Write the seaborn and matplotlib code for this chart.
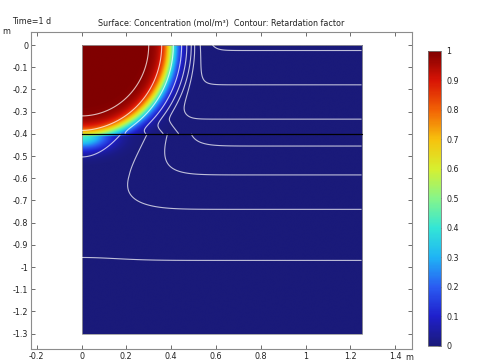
import numpy as np
import matplotlib
matplotlib.use("Agg")
import matplotlib.pyplot as plt
from matplotlib.colors import LinearSegmentedColormap
from matplotlib.patches import Rectangle
import seaborn as sns

# domain (m)
x_min, x_max = 0.0, 1.25
y_min, y_max = -1.3, 0.0
y_layer = -0.4

# concentration
c_mid_radius = 0.40      # green (c = 0.5) round the corner
c_edge_width = 0.045
c_lower_peak = 0.42      # just under the layer boundary at x = 0
c_lower_x = 0.12
c_lower_depth = 0.06

# retardation factor contours
# upper layer: where each line meets the top edge
top_cross = [0.30, 0.358, 0.41, 0.447, 0.47, 0.49, 0.505, 0.53, 0.585]
top_levels = [8, 7, 6, 5, 4, 3, 2, 1, 0]
# upper layer: depth of the flat part on the right
flat_upper = [0.026, 0.177, 0.335]
flat_upper_levels = [0, 1, 2]
# lower layer: where the lines leave the layer boundary
layer_cross = [0.193, 0.279, 0.349, 0.438]
layer_levels = [6, 5, 4, 3]
arc_left_depth = 0.092   # innermost lower arc meets x = 0 here (below boundary)
# lower layer: depth of the flat part on the right
flat_lower = [0.455, 0.585, 0.74, 0.97]
flat_lower_levels = [3, 4, 5, 6]

x_ticks = [-0.2, 0, 0.2, 0.4, 0.6, 0.8, 1, 1.2, 1.4]
y_ticks = [0, -0.1, -0.2, -0.3, -0.4, -0.5, -0.6, -0.7, -0.8, -0.9, -1, -1.1, -1.2, -1.3]
cbar_ticks = [0, 0.1, 0.2, 0.3, 0.4, 0.5, 0.6, 0.7, 0.8, 0.9, 1]

rainbow = ["#1a1a7a", "#1f1fcc", "#2a5cf2", "#1fb4f5", "#33e6d6", "#86f58a",
           "#d6f030", "#f7c20d", "#f26305", "#d91405", "#800000"]


def lin_extrap(x, xp, fp):
    xp = np.asarray(xp, float)
    fp = np.asarray(fp, float)
    out = np.interp(x, xp, fp)
    lo = x < xp[0]
    hi = x > xp[-1]
    out[lo] = fp[0] + (x[lo] - xp[0]) * (fp[1] - fp[0]) / (xp[1] - xp[0])
    out[hi] = fp[-1] + (x[hi] - xp[-1]) * (fp[-1] - fp[-2]) / (xp[-1] - xp[-2])
    return out


# grids
xs = np.linspace(x_min, x_max, 600)
yu = np.linspace(y_layer, y_max, 240)
yl = np.linspace(y_min, y_layer, 520)
XU, YU = np.meshgrid(xs, yu)
XL, YL = np.meshgrid(xs, yl)

# concentration field
rho = np.sqrt(XU**2 + YU**2)
conc_u = 0.5 * (1 - np.tanh((rho - c_mid_radius) / c_edge_width))
d_l = y_layer - YL
conc_l = c_lower_peak * np.exp(-(XL / c_lower_x)**2 - (d_l / c_lower_depth)**2)
conc = np.vstack([conc_l, conc_u[1:]])

# retardation factor field (log-scale levels)
qa, qb = np.polyfit(flat_upper, flat_upper_levels, 1)
Q_u = qb + qa * (-YU)
# blob part, corrected so the lines hit the top edge where read
p_top = np.log(np.exp(np.array(top_levels, float)) - np.exp(qb))
rho_r = np.sqrt(XU**2 + (0.94 * YU)**2)
P_u = lin_extrap(rho_r.ravel(), top_cross, p_top).reshape(rho_r.shape)

sa, sb = np.polyfit(np.square(layer_cross), layer_levels, 1)
# pull from the lower layer, fading upward
T_u = sb + sa * XU**2 - 12.0 * (YU - y_layer)
sharp = 3.0
R_u = np.logaddexp(sharp * np.logaddexp(P_u, Q_u), sharp * T_u) / sharp

k_depth = (sb - layer_levels[0]) / arc_left_depth
P_l = sb + sa * XL**2 - k_depth * d_l
Q_l = lin_extrap((-YL).ravel(), flat_lower, flat_lower_levels).reshape(YL.shape)
R_l = np.logaddexp(P_l, Q_l)

sns.set_theme(style="ticks")
plt.rcParams["font.family"] = ["DejaVu Sans"]
fs = 5.8

fig = plt.figure(figsize=(4.8, 3.64), dpi=100)
ax = fig.add_axes([0.0646, 0.0412, 0.7938, 0.8709])
cax = fig.add_axes([0.8917, 0.0495, 0.0271, 0.8104])

cmap = LinearSegmentedColormap.from_list("rainbow", rainbow)
im = ax.imshow(conc, extent=[x_min, x_max, y_min, y_max], origin="lower",
               cmap=cmap, vmin=0, vmax=1, aspect="auto", interpolation="bilinear")

line_col = (1, 1, 1, 0.72)
ax.contour(XU, YU, R_u, levels=top_levels[::-1], colors=[line_col], linewidths=0.8)
ax.contour(XL, YL, R_l, levels=flat_lower_levels, colors=[line_col], linewidths=0.8)

sns.lineplot(x=[x_min, x_max], y=[y_layer, y_layer], color="black", lw=0.9, ax=ax)
ax.add_patch(Rectangle((x_min, y_min), x_max - x_min, y_max - y_min,
                       fill=False, ec="#9a9a9a", lw=0.6))

ax.set_xlim(-0.2254, 1.4754)
ax.set_ylim(-1.369, 0.0586)
ax.set_xticks(x_ticks)
ax.set_xticklabels([f"{v:g}" for v in x_ticks])
ax.set_yticks(y_ticks)
ax.set_yticklabels([f"{v:g}" for v in y_ticks])
ax.tick_params(direction="in", length=3, width=0.6, labelsize=fs, colors="#555555",
               labelcolor="#222222", top=True, right=True, pad=2)
for s in ax.spines.values():
    s.set_color("#8c8c8c")
    s.set_linewidth(0.8)

ax.set_title("Surface: Concentration (mol/m³)  Contour: Retardation factor",
             fontsize=fs, pad=4, color="#222222")
fig.text(12 / 480, 1 - 21 / 364, "Time=1 d", fontsize=fs, va="center", ha="left", color="#222222")
fig.text(2 / 480, 1 - 31 / 364, "m", fontsize=fs, va="center", ha="left", color="#222222")
fig.text(405 / 480, 1 - 357 / 364, "m", fontsize=fs, va="center", ha="left", color="#222222")

cb = fig.colorbar(im, cax=cax, ticks=cbar_ticks)
cb.ax.set_yticklabels([f"{v:g}" for v in cbar_ticks])
cb.ax.tick_params(direction="in", length=2, width=0.5, labelsize=fs, colors="#333333",
                  labelcolor="#222222", pad=4)
cb.outline.set_edgecolor("#777777")
cb.outline.set_linewidth(0.6)

fig.savefig("out.png", dpi=100)
